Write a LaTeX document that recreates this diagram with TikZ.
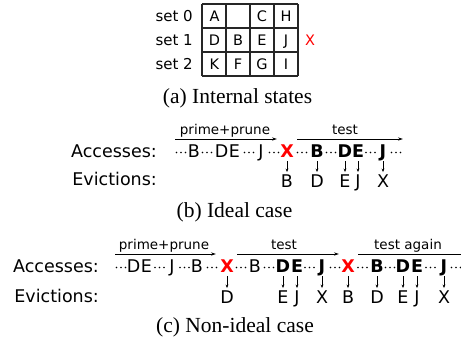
\documentclass[tikz,border=0pt]{standalone}
\usepackage{fontspec}
\setmainfont{DejaVu Sans}
\newfontfamily\capfont{Liberation Serif}
\usetikzlibrary{arrows.meta}

\tikzset{
  acc/.style={inner sep=0pt, anchor=base, font=\fontsize{17.5}{17.5}\selectfont},
  accb/.style={acc, font=\fontsize{17.5}{17.5}\selectfont\bfseries},
  miss/.style={accb, text=red},
  evl/.style={inner sep=0pt, anchor=base, font=\fontsize{17.5}{17.5}\selectfont},
  rowlabel/.style={inner sep=0pt, anchor=base east, font=\fontsize{17.5}{17.5}\selectfont},
  phase/.style={inner sep=0pt, anchor=base, font=\fontsize{13.5}{13.5}\selectfont},
  phasearrow/.style={line width=0.8pt, -{Stealth[length=5pt,width=3.2pt]}},
  evarrow/.style={line width=0.7pt, -{Stealth[length=3.5pt,width=2.8pt]}},
  cell/.style={inner sep=0pt, anchor=base, font=\fontsize{14.5}{14.5}\selectfont},
  setlabel/.style={inner sep=0pt, anchor=base east, font=\fontsize{15}{15}\selectfont},
  gridline/.style={line width=1.2pt, draw=black!85},
  caption/.style={inner sep=0pt, anchor=base, font=\capfont\fontsize{21.5}{21.5}\selectfont},
}

% three centred dots standing for omitted accesses
\newcommand\seqdots[2]{%
  \fill (#1-4.5,#2) circle (0.85pt) (#1,#2) circle (0.85pt) (#1+4.5,#2) circle (0.85pt);}

\begin{document}
\begin{tikzpicture}[x=1pt,y=-1pt]
\useasboundingbox (0,0) rectangle (461,341);
\clip (0,0) rectangle (461,341);

% ---------- (a) cache sets ----------
\foreach \yy in {4,28,52,76} {\draw[gridline] (202,\yy) -- (298,\yy);}
\foreach \xx in {202,226,250,274,298} {\draw[gridline] (\xx,4) -- (\xx,76);}

\node[setlabel] (s0) at (193,21.5) {set 0};
\node[setlabel] (s1) at (193,45.5) {set 1};
\node[setlabel] (s2) at (193,69.5) {set 2};

\node[cell] (cA) at (214.5,21.5) {A};
\node[cell] (cC) at (262,21.5) {C};
\node[cell] (cH) at (286,21.5) {H};
\node[cell] (cD) at (214.5,45.5) {D};
\node[cell] (cB) at (238,45.5) {B};
\node[cell] (cE) at (262,45.5) {E};
\node[cell] (cJ) at (286,45.5) {J};
\node[cell] (cK) at (214.5,69.5) {K};
\node[cell] (cF) at (238,69.5) {F};
\node[cell] (cG) at (262,69.5) {G};
\node[cell] (cI) at (286,69.5) {I};
\node[cell, text=red] (cX) at (310,45.5) {X};

\node[caption] (capa) at (237.5,103) {(a) Internal states};

% ---------- (b) ideal case ----------
\node[rowlabel] (accb) at (157,157) {Accesses:};
\node[rowlabel] (evb) at (157,185.5) {Evictions:};

\node[phase] (ppb) at (225,134) {prime+prune};
\coordinate (ppb1) at (175,139);
\coordinate (ppb2) at (277,139);
\draw[phasearrow] (ppb1) -- (ppb2);
\node[phase] (tb) at (345,134) {test};
\coordinate (tb1) at (297,139);
\coordinate (tb2) at (403,139);
\draw[phasearrow] (tb1) -- (tb2);

\node[acc] (b1) at (194,157) {B};
\node[acc] (b2) at (221.5,157) {D};
\node[acc] (b3) at (234.5,157) {E};
\node[acc] (b4) at (261,157) {J};
\node[miss] (b5) at (287,157) {X};
\node[accb] (b6) at (317,157) {B};
\node[accb] (b7) at (345,157) {D};
\node[accb] (b8) at (358,157) {E};
\node[accb] (b9) at (383,157) {J};
\foreach \xx in {181,207,249,274,302,331,370.5,396} {\seqdots{\xx}{152.5}}

\node[evl] (eb1) at (287,187) {B};
\node[evl] (eb2) at (317,187) {D};
\node[evl] (eb3) at (345,187) {E};
\node[evl] (eb4) at (358,187) {J};
\node[evl] (eb5) at (383,187) {X};
\foreach \a/\e in {b5/eb1,b6/eb2,b7/eb3,b8/eb4,b9/eb5}
  {\draw[evarrow] ([yshift=-4pt]\a.base) -- ([yshift=2pt]\e.north);}

\node[caption] (capb) at (234.5,217) {(b) Ideal case};

% ---------- (c) non-ideal case ----------
\node[rowlabel] (accc) at (99,272) {Accesses:};
\node[rowlabel] (evc) at (99,302) {Evictions:};

\node[phase] (ppc) at (164,249) {prime+prune};
\coordinate (ppc1) at (115,254);
\coordinate (ppc2) at (216,254);
\draw[phasearrow] (ppc1) -- (ppc2);
\node[phase] (tc) at (284,249) {test};
\coordinate (tc1) at (237,254);
\coordinate (tc2) at (339,254);
\draw[phasearrow] (tc1) -- (tc2);
\node[phase] (tac) at (408,249) {test again};
\coordinate (tac1) at (358,254);
\coordinate (tac2) at (468,254);
\draw[phasearrow] (tac1) -- (tac2);

\node[acc] (c1) at (133.5,272) {D};
\node[acc] (c2) at (146.5,272) {E};
\node[acc] (c3) at (172,272) {J};
\node[acc] (c4) at (197,272) {B};
\node[miss] (c5) at (227,272) {X};
\node[acc] (c6) at (255,272) {B};
\node[accb] (c7) at (283,272) {D};
\node[accb] (c8) at (297,272) {E};
\node[accb] (c9) at (322,272) {J};
\node[miss] (c10) at (348,272) {X};
\node[accb] (c11) at (377,272) {B};
\node[accb] (c12) at (403,272) {D};
\node[accb] (c13) at (417,272) {E};
\node[accb] (c14) at (444,272) {J};
\foreach \xx in {121,159.5,184.5,212,241,269,309.5,335,362.5,390,430.5,456} {\seqdots{\xx}{267.5}}

\node[evl] (ec1) at (227,303) {D};
\node[evl] (ec2) at (283,303) {E};
\node[evl] (ec3) at (297,303) {J};
\node[evl] (ec4) at (322,303) {X};
\node[evl] (ec5) at (348,303) {B};
\node[evl] (ec6) at (377,303) {D};
\node[evl] (ec7) at (403,303) {E};
\node[evl] (ec8) at (417,303) {J};
\node[evl] (ec9) at (444,303) {X};
\foreach \a/\e in {c5/ec1,c7/ec2,c8/ec3,c9/ec4,c10/ec5,c11/ec6,c12/ec7,c13/ec8,c14/ec9}
  {\draw[evarrow] ([yshift=-4pt]\a.base) -- ([yshift=2pt]\e.north);}

\node[caption] (capc) at (235,332) {(c) Non-ideal case};
\end{tikzpicture}
\end{document}
